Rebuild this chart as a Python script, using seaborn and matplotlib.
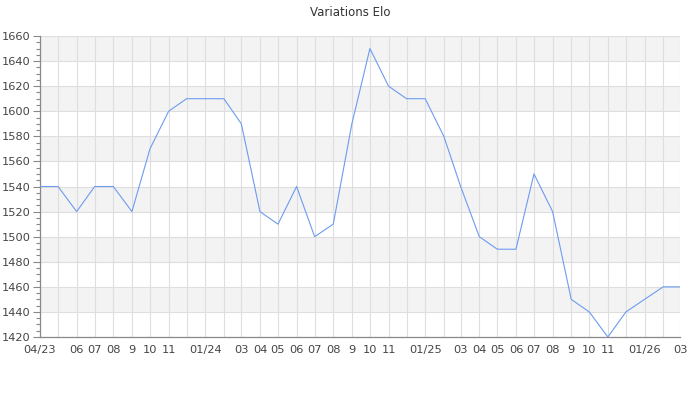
import pandas as pd
import matplotlib.pyplot as plt
import matplotlib.dates as mdates
from matplotlib.ticker import MultipleLocator, FixedLocator
import seaborn as sns

# Monthly Elo values, 04/2023 -> 03/2026
months = pd.date_range("2023-04-01", "2026-03-01", freq="MS")
elo = [1540, 1540, 1520, 1540, 1540, 1520, 1570, 1600, 1610,
       1610, 1610, 1590, 1520, 1510, 1540, 1500, 1510, 1590, 1650, 1620, 1610,
       1610, 1580, 1540, 1500, 1490, 1490, 1550, 1520, 1450, 1440, 1420, 1440,
       1450, 1460, 1460]
tick_labels = ["04/23", "", "06", "07", "08", "9", "10", "11", "",
               "01/24", "", "03", "04", "05", "06", "07", "08", "9", "10", "11", "",
               "01/25", "", "03", "04", "05", "06", "07", "08", "9", "10", "11", "",
               "01/26", "", "03"]

df = pd.DataFrame({"month": months, "elo": elo})

sns.set_style("white")
plt.rcParams['font.family'] = ['DejaVu Sans']

fig = plt.figure(figsize=(7, 4), dpi=100)
ax = fig.add_axes([40 / 700, 1 - 337 / 400, 640 / 700, 301 / 400])

# alternating grey bands
for lo in range(1440, 1660, 40):
    ax.axhspan(lo, lo + 20, color="#f3f3f3", zorder=0, lw=0)

sns.lineplot(data=df, x="month", y="elo", ax=ax, color="#6d9bf0", linewidth=0.8, zorder=3)

ax.set_xlim(months[0], months[-1])
ax.set_ylim(1420, 1660)
ax.yaxis.set_major_locator(MultipleLocator(20))
ax.yaxis.set_minor_locator(MultipleLocator(5))
ax.xaxis.set_major_locator(FixedLocator(mdates.date2num(months)))
ax.set_xticklabels(tick_labels)

ax.grid(True, which="major", color="#dedede", linewidth=0.8, zorder=1)
ax.set_axisbelow(True)

ax.tick_params(axis="y", which="major", length=5, width=0.8, color="#888888",
               labelsize=8.2, labelcolor="#444444", pad=2, left=True)
ax.tick_params(axis="y", which="minor", length=3, width=0.8, color="#888888", left=True)
ax.tick_params(axis="x", which="major", length=0, labelsize=8.2, labelcolor="#444444", pad=6)

for s in ["top", "right"]:
    ax.spines[s].set_visible(False)
for s in ["left", "bottom"]:
    ax.spines[s].set_color("#888888")
    ax.spines[s].set_linewidth(0.9)

ax.set_xlabel("")
ax.set_ylabel("")
fig.suptitle("Variations Elo", y=0.985, fontsize=8.5, color="#333333")

fig.savefig("out.png", dpi=100)
